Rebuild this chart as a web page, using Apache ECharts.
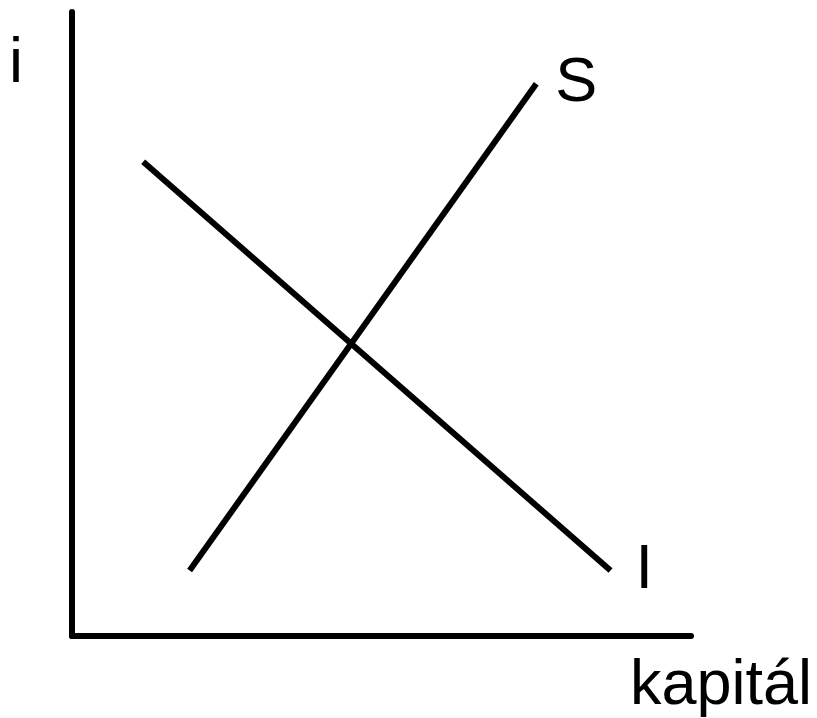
<!DOCTYPE html>
<html>
<head>
<meta charset="utf-8">
<script src="https://cdn.jsdelivr.net/npm/echarts@6/dist/echarts.min.js"></script>
<style>
    html, body { margin: 0; padding: 0; background: #fff; }
    #chart { width: 817px; height: 718px; }
</style>
</head>
<body>
<div id="chart"></div>
<script>
// 数据 (axis units 0-10)
const savingX = [1.9, 7.5];
const savingY = [1.05, 8.85];
const investX = [1.15, 8.7];
const investY = [7.6, 1.05];
const seriesNames = ['S', 'I'];
const axisNames = { x: 'kapitál', y: 'i' };

const FONT = "'Liberation Sans', Arial, sans-serif";

const toPairs = (xs, ys) => xs.map((x, i) => [x, ys[i]]);

const chart = echarts.init(document.getElementById('chart'));

const axisBase = {
    type: 'value',
    min: 0,
    max: 10,
    axisLine: { show: true, lineStyle: { color: '#000', width: 6 } },
    axisTick: { show: false },
    axisLabel: { show: false },
    splitLine: { show: false }
};

const option = {
    animation: false,
    grid: { left: 72, top: 12, right: 126, bottom: 82 },
    xAxis: {
        ...axisBase,
        name: axisNames.x,
        nameLocation: 'end',
        nameGap: 121,
        nameTextStyle: {
            color: '#000',
            fontFamily: FONT,
            fontSize: 63,
            align: 'right',
            verticalAlign: 'top',
            padding: [19, 0, 0, 0]
        }
    },
    yAxis: {
        ...axisBase,
        name: axisNames.y,
        nameLocation: 'end',
        nameGap: 0,
        nameTextStyle: {
            color: '#000',
            fontFamily: FONT,
            fontSize: 63,
            align: 'right',
            verticalAlign: 'top',
            padding: [21, 49, 0, 0]
        }
    },
    series: [
        {
            name: seriesNames[0],
            type: 'line',
            symbol: 'none',
            data: toPairs(savingX, savingY),
            lineStyle: { color: '#000', width: 6 },
            endLabel: {
                show: true,
                formatter: seriesNames[0],
                distance: 19,
                color: '#000',
                fontFamily: FONT,
                fontSize: 63
            }
        },
        {
            name: seriesNames[1],
            type: 'line',
            symbol: 'none',
            data: toPairs(investX, investY),
            lineStyle: { color: '#000', width: 6 },
            endLabel: {
                show: true,
                formatter: seriesNames[1],
                distance: 25,
                color: '#000',
                fontFamily: FONT,
                fontSize: 63
            }
        }
    ]
};

chart.setOption(option);
</script>
</body>
</html>
